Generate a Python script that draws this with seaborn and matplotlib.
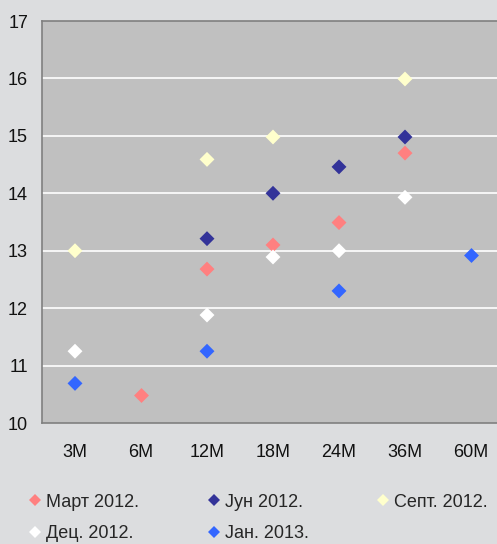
import matplotlib.pyplot as plt
from matplotlib.lines import Line2D
import pandas as pd
import seaborn as sns

sns.set_theme(style="white")
plt.rcParams["font.family"] = ["Liberation Sans", "DejaVu Sans"]

tenors = ["3M", "6M", "12M", "18M", "24M", "36M", "60M"]
series_names = ["Март 2012.", "Јун 2012.", "Септ. 2012.", "Дец. 2012.", "Јан. 2013."]
colors = ["#ff8080", "#333399", "#ffffcc", "#ffffff", "#3366ff"]

mart_tenors = ["6M", "12M", "18M", "24M", "36M"]
mart_vals = [10.49, 12.68, 13.10, 13.49, 14.70]
jun_tenors = ["12M", "18M", "24M", "36M"]
jun_vals = [13.21, 14.00, 14.46, 14.98]
sept_tenors = ["3M", "12M", "18M", "36M"]
sept_vals = [13.00, 14.59, 14.98, 15.99]
dec_tenors = ["3M", "12M", "18M", "24M", "36M"]
dec_vals = [11.25, 11.88, 12.89, 13.00, 13.93]
jan_tenors = ["3M", "12M", "24M", "60M"]
jan_vals = [10.69, 11.25, 12.30, 12.92]

frames = []
for name, ts, vs in zip(series_names,
                        [mart_tenors, jun_tenors, sept_tenors, dec_tenors, jan_tenors],
                        [mart_vals, jun_vals, sept_vals, dec_vals, jan_vals]):
    frames.append(pd.DataFrame({"tenor": ts, "rate": vs, "series": name}))
df = pd.concat(frames, ignore_index=True)

bg = "#dcdddf"
fig = plt.figure(figsize=(4.97, 5.44), dpi=100, facecolor=bg)
ax = fig.add_axes([42 / 497, 121 / 544, 462 / 497, 402 / 544])
ax.set_facecolor("#c0c0c0")

sns.stripplot(data=df, x="tenor", y="rate", hue="series", order=tenors,
              hue_order=series_names, palette=colors, jitter=False, dodge=False,
              marker="D", size=7.6, linewidth=0, legend=False, ax=ax, zorder=3)

ax.set_xlim(-0.5, 6.5)
ax.set_ylim(10, 17)
ax.set_yticks(range(10, 18))
for y in range(11, 17):
    ax.axhline(y, color="white", lw=1.2, zorder=1)
ax.set_xlabel("")
ax.set_ylabel("")
ax.tick_params(axis="both", length=0, labelsize=13, colors="#111111")
ax.tick_params(axis="y", pad=10)
ax.tick_params(axis="x", pad=15)
for side in ["left", "bottom", "top"]:
    ax.spines[side].set_color("#808080")
    ax.spines[side].set_linewidth(1.2)
ax.spines["right"].set_visible(False)

# legend filled column-wise, so reorder to read row by row
order = [0, 3, 1, 4, 2]
handles = [Line2D([], [], ls="", marker="D", markersize=6.2, color=colors[i],
                  markeredgewidth=0) for i in order]
labels = [series_names[i] for i in order]
fig.legend(handles, labels, ncol=3, loc="upper left", bbox_to_anchor=(0.045, 0.106),
           frameon=False, fontsize=13, handlelength=0.6, handletextpad=0.3,
           columnspacing=3.85, labelspacing=0.8, borderaxespad=0)

fig.savefig("out.png", dpi=100, facecolor=bg)
